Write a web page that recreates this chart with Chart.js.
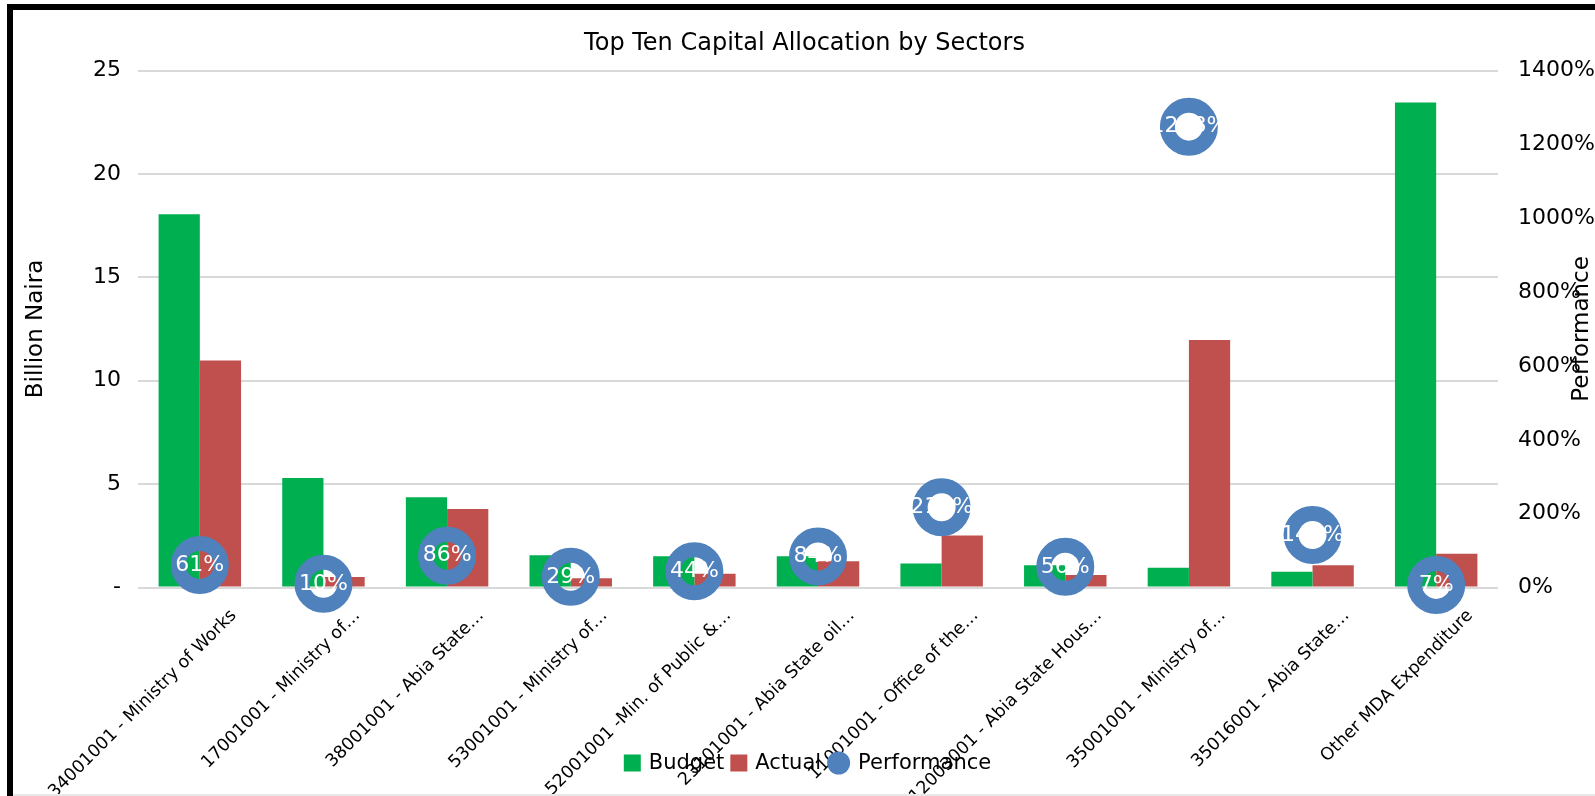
<!DOCTYPE html>
<html>
<head>
<meta charset="utf-8">
<title>Top Ten Capital Allocation by Sectors</title>
<script src="https://cdn.jsdelivr.net/npm/chart.js@4.4.1/dist/chart.umd.min.js"></script>
<style>
  html, body { margin: 0; padding: 0; background: #fff; }
  #wrap { position: relative; width: 1595px; height: 796px; overflow: hidden; background: #fff; }
  #frame { position: absolute; left: 7px; top: 4px; right: -10px; bottom: -10px; border-left: 6px solid #000; border-top: 6px solid #000; pointer-events: none; }
  #base { position: absolute; left: 13px; right: 0; bottom: 0; height: 2px; background: #e8e8e8; }
</style>
</head>
<body>
<div id="wrap">
  <canvas id="capChart" width="1595" height="796"></canvas>
  <div id="frame"></div>
  <div id="base"></div>
</div>
<script>
// values (billion naira / percent)
const sectors = [
    '34001001 - Ministry of Works',
    '17001001 - Ministry of…',
    '38001001 - Abia State…',
    '53001001 - Ministry of…',
    '52001001 -Min. of Public &…',
    '23101001 - Abia State oil…',
    '11001001 - Office of the…',
    '12003001 - Abia State Hous…',
    '35001001 - Ministry of…',
    '35016001 - Abia State…',
    'Other MDA Expenditure'
];
const budget = [18.05, 5.29, 4.37, 1.56, 1.51, 1.51, 1.16, 1.08, 0.96, 0.76, 23.45];
const actual = [10.98, 0.51, 3.79, 0.45, 0.66, 1.27, 2.52, 0.60, 11.97, 1.08, 1.63];
const performance = [61, 10, 86, 29, 44, 84, 217, 56, 1248, 142, 7];

const FONT = 'DejaVu Sans';
const GREEN = '#00B050';
const RED = '#C0504D';
const BLUE = '#4F81BD';

// white % labels on the performance rings
const perfLabels = {
    id: 'perfLabels',
    afterDatasetsDraw(chart) {
        const meta = chart.getDatasetMeta(2);
        const ctx = chart.ctx;
        ctx.save();
        ctx.font = '22px ' + FONT;
        ctx.fillStyle = '#fff';
        ctx.textAlign = 'center';
        ctx.textBaseline = 'middle';
        meta.data.forEach((pt, i) => {
            ctx.fillText(performance[i] + '%', pt.x, pt.y);
        });
        ctx.restore();
    }
};

// right axis title reads bottom-to-top in the original, chart.js turns it the other way
const rightTitle = {
    id: 'rightTitle',
    afterDraw(chart) {
        const s = chart.scales.y1;
        const ctx = chart.ctx;
        ctx.save();
        ctx.translate(chart.width - 13, (s.top + s.bottom) / 2);
        ctx.rotate(-Math.PI / 2);
        ctx.font = '23px ' + FONT;
        ctx.fillStyle = '#000';
        ctx.textAlign = 'center';
        ctx.textBaseline = 'middle';
        ctx.fillText('Performance', 0, 0);
        ctx.restore();
    }
};

// legend sits over the rotated labels, like the original
const bottomLegend = {
    id: 'bottomLegend',
    afterDraw(chart) {
        const ctx = chart.ctx;
        const ds = chart.data.datasets;
        ctx.save();
        ctx.font = '21px ' + FONT;
        ctx.textBaseline = 'middle';
        ctx.textAlign = 'left';
        const items = ds.map(d => ({
            label: d.label,
            color: d.type === 'line' ? d.borderColor : d.backgroundColor,
            round: d.type === 'line',
            box: d.type === 'line' ? 23 : 17
        }));
        let total = 0;
        items.forEach(it => { it.w = it.box + 8 + ctx.measureText(it.label).width; total += it.w; });
        total += 6 * (items.length - 1);
        let x = chart.width / 2 + 10 - total / 2;
        const y = 763;
        items.forEach(it => {
            ctx.fillStyle = it.color;
            if (it.round) {
                ctx.beginPath();
                ctx.arc(x + it.box / 2, y, it.box / 2, 0, Math.PI * 2);
                ctx.fill();
            } else {
                ctx.fillRect(x, y - it.box / 2, it.box, it.box);
            }
            ctx.fillStyle = '#000';
            ctx.fillText(it.label, x + it.box + 8, y + 1);
            x += it.w + 6;
        });
        ctx.restore();
    }
};

new Chart(document.getElementById('capChart'), {
    type: 'bar',
    data: {
        labels: sectors,
        datasets: [
            {
                label: 'Budget',
                data: budget,
                backgroundColor: GREEN,
                yAxisID: 'y',
                order: 1,
                categoryPercentage: 0.667,
                barPercentage: 1.0
            },
            {
                label: 'Actual',
                data: actual,
                backgroundColor: RED,
                yAxisID: 'y',
                order: 2,
                categoryPercentage: 0.667,
                barPercentage: 1.0
            },
            {
                type: 'line',
                label: 'Performance',
                data: performance,
                yAxisID: 'y1',
                order: 0,
                showLine: false,
                borderColor: BLUE,
                pointRadius: 21.5,
                pointHoverRadius: 21.5,
                pointBorderWidth: 15,
                pointHoverBorderWidth: 15,
                pointBackgroundColor: 'rgba(0,0,0,0)',
                pointBorderColor: BLUE,
                clip: false
            }
        ]
    },
    options: {
        responsive: false,
        animation: false,
        devicePixelRatio: 1,
        events: [],
        layout: { padding: { top: 10, left: 14, right: 0, bottom: 0 } },
        plugins: {
            legend: { display: false },
            tooltip: { enabled: false },
            title: {
                display: true,
                text: 'Top Ten Capital Allocation by Sectors',
                color: '#000',
                font: { family: FONT, size: 24, weight: 'normal' },
                padding: { top: 19.6, bottom: 12.1 }
            }
        },
        scales: {
            x: {
                grid: { display: false },
                border: { display: false },
                ticks: {
                    color: '#000',
                    font: { family: FONT, size: 17.5 },
                    autoSkip: false,
                    minRotation: 45,
                    maxRotation: 45,
                    padding: 10,
                    labelOffset: 34
                },
                afterFit(scale) {
                    // labels run off to the left in the original, don't let them squeeze the plot
                    scale.height = 208.5;
                    scale.paddingLeft = 0;
                    scale.paddingRight = 0;
                }
            },
            y: {
                position: 'left',
                min: 0,
                max: 25,
                grid: { color: '#d9d9d9', lineWidth: 2, drawTicks: false },
                border: { display: false },
                ticks: {
                    stepSize: 5,
                    color: '#000',
                    font: { family: FONT, size: 22 },
                    padding: 17,
                    callback: v => v === 0 ? '-' : v
                },
                title: {
                    display: true,
                    text: 'Billion Naira',
                    color: '#000',
                    font: { family: FONT, size: 23 },
                    padding: { top: 8, bottom: 0 }
                },
                afterFit(scale) { scale.width = 124; }
            },
            y1: {
                position: 'right',
                min: 0,
                max: 1400,
                grid: { display: false, drawTicks: false },
                border: { display: false },
                ticks: {
                    stepSize: 200,
                    color: '#000',
                    font: { family: FONT, size: 22 },
                    padding: 20,
                    callback: v => v + '%'
                },
                afterFit(scale) { scale.width = 97; }
            }
        }
    },
    plugins: [perfLabels, rightTitle, bottomLegend]
});
</script>
</body>
</html>
